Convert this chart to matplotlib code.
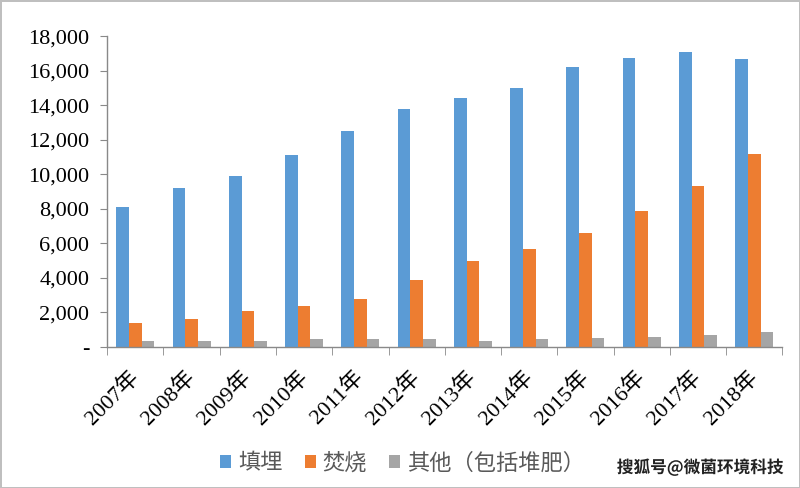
import numpy as np
import matplotlib.pyplot as plt
import matplotlib.patheffects as pe
from matplotlib.ticker import FuncFormatter, FixedLocator
from matplotlib.transforms import ScaledTranslation

# Données (tonnes)
years = ["2007年", "2008年", "2009年", "2010年", "2011年", "2012年",
         "2013年", "2014年", "2015年", "2016年", "2017年", "2018年"]
landfill = [8100, 9200, 9900, 11100, 12500, 13800, 14400, 15000, 16200, 16750, 17100, 16700]
incineration = [1400, 1600, 2100, 2400, 2800, 3900, 5000, 5700, 6600, 7900, 9300, 11200]
other = [350, 350, 350, 460, 460, 460, 330, 460, 540, 600, 710, 850]

series_names = ["填埋", "焚烧", "其他（包括堆肥）"]

_COL_BLUE = "#5B9BD5"
_COL_ORANGE = "#ED7D31"
_COL_GRAY = "#A5A5A5"
_AXIS = "#898989"

SERIF = ["Liberation Serif", "Noto Sans CJK SC"]
CJK = ["Noto Sans CJK SC", "DejaVu Sans"]

fig = plt.figure(figsize=(8, 4.88), dpi=100)
fig.patch.set_edgecolor("#BFBFBF")
fig.patch.set_linewidth(2)
ax = fig.add_axes([0.134, 0.289, 0.844, 0.637])

x = np.arange(len(years))
w = 0.225
ax.bar(x - w, landfill, w, color=_COL_BLUE, label=series_names[0])
ax.bar(x, incineration, w, color=_COL_ORANGE, label=series_names[1])
ax.bar(x + w, other, w, color=_COL_GRAY, label=series_names[2])

ax.set_xlim(-0.5, len(years) - 0.5)
ax.set_ylim(0, 18000)
ax.set_yticks(np.arange(0, 18001, 2000))
ax.yaxis.set_major_formatter(FuncFormatter(lambda v, p: "-" if v == 0 else f"{int(v):,}"))

for s in ["top", "right"]:
    ax.spines[s].set_visible(False)
for s in ["left", "bottom"]:
    ax.spines[s].set_color(_AXIS)
    ax.spines[s].set_linewidth(1)

ax.tick_params(axis="y", direction="out", length=5, color=_AXIS, pad=8)
ax.set_xticks(x)
ax.tick_params(axis="x", which="major", length=0, pad=5)
ax.xaxis.set_minor_locator(FixedLocator(np.arange(-0.5, len(years), 1.0)))
ax.tick_params(axis="x", which="minor", direction="out", length=6, color=_AXIS)

for lab in ax.get_yticklabels():
    lab.set_family(SERIF)
    lab.set_fontsize(16)
ax.set_xticklabels(years, rotation=45, ha="right", va="top",
                   rotation_mode="anchor", family=SERIF, fontsize=16)
shift = ScaledTranslation(-0.07, -0.13, fig.dpi_scale_trans)
for lab in ax.get_xticklabels():
    lab.set_transform(lab.get_transform() + shift)

leg = fig.legend(loc="center", bbox_to_anchor=(0.503, 0.051), ncol=3,
                 frameon=False, prop={"family": CJK, "size": 16},
                 handlelength=0.5, handleheight=0.5, handletextpad=0.3,
                 columnspacing=1.0)
for t in leg.get_texts():
    t.set_color("#595959")

# Filigrane
fig.text(0.979, 0.042, "搜狐号@微菌环境科技", ha="right", va="center",
         family=CJK, fontsize=12, fontweight="bold", color="#222222",
         path_effects=[pe.withStroke(linewidth=2, foreground="white")])

fig.savefig("out.png", dpi=100)
